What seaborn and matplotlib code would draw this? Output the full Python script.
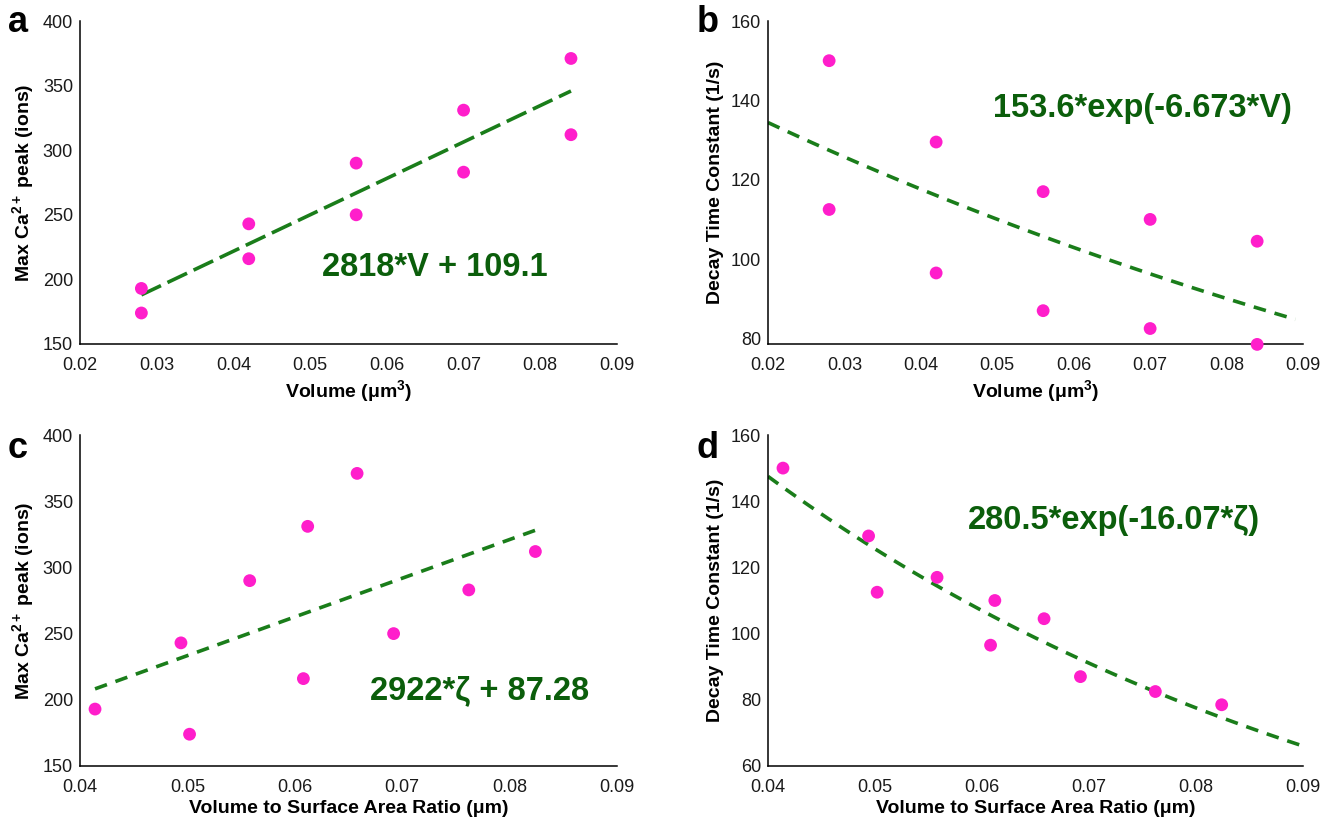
import numpy as np
import pandas as pd
import matplotlib
matplotlib.use("Agg")
import matplotlib.pyplot as plt
import seaborn as sns

# Spine geometry measurements: volume, volume-to-surface ratio, peak Ca2+ and decay constant
volume = [0.028, 0.028, 0.042, 0.042, 0.056, 0.056, 0.070, 0.070, 0.084, 0.084]
zeta = [0.0414, 0.0502, 0.0494, 0.0608, 0.0558, 0.0692, 0.0612, 0.0762, 0.0658, 0.0824]
peak_ca = [193, 174, 243, 216, 290, 250, 331, 283, 371, 312]
decay = [150, 112.5, 129.5, 96.5, 117, 87, 110, 82.5, 104.5, 78.5]

# Fit coefficients
lin_v = (2818, 109.1)
exp_v = (153.6, -6.673)
lin_z = (2922, 87.28)
exp_z = (280.5, -16.07)

eq_a = "2818*V + 109.1"
eq_b = "153.6*exp(-6.673*V)"
eq_c = "2922*\u03b6 + 87.28"
eq_d = "280.5*exp(-16.07*\u03b6)"

sns.set_theme(style="white")
plt.rcParams["font.family"] = ["Liberation Sans", "DejaVu Sans"]
plt.rcParams["mathtext.fontset"] = "custom"
plt.rcParams["mathtext.rm"] = "Liberation Sans"
plt.rcParams["mathtext.bf"] = "Liberation Sans:bold"
plt.rcParams["mathtext.it"] = "Liberation Sans:italic"
plt.rcParams["text.color"] = "black"
plt.rcParams["axes.labelcolor"] = "black"

df = pd.DataFrame({"volume": volume, "zeta": zeta, "peak": peak_ca, "decay": decay})

PINK = "#ff1ecb"
GREEN = "#1a7d1a"
TEXTGREEN = "#0b5e0b"

fig = plt.figure(figsize=(13.33, 8.19), dpi=100)
W, H = 1333, 819


def make_ax(x0, x1, y0, y1):
    return fig.add_axes([x0 / W, 1 - y1 / H, (x1 - x0) / W, (y1 - y0) / H])


ax_a = make_ax(80, 617, 21, 344)
ax_b = make_ax(768, 1303, 21, 344)
ax_c = make_ax(80, 617, 435, 766)
ax_d = make_ax(768, 1303, 435, 766)

vol_label = "Volume (\u03bcm$^{\\mathbf{3}}$)"
zeta_label = "Volume to Surface Area Ratio (\u03bcm)"
peak_label = "Max Ca$^{\\mathbf{2+}}$ peak (ions)"
decay_label = "Decay Time Constant (1/s)"


def style(ax, xlim, ylim, xticks, yticks, xlabel, ylabel):
    ax.set_xlim(*xlim)
    ax.set_ylim(*ylim)
    ax.set_xticks(xticks)
    ax.set_yticks(yticks)
    ax.set_xticklabels([f"{t:.2f}" for t in xticks])
    ax.set_yticklabels([f"{t:g}" for t in yticks])
    for s in ["top", "right"]:
        ax.spines[s].set_visible(False)
    for s in ["left", "bottom"]:
        ax.spines[s].set_color("black")
        ax.spines[s].set_linewidth(1.1)
    ax.tick_params(direction="in", length=3, width=0.8, color="#bbbbbb",
                   labelsize=13, labelcolor="#1a1a1a")
    ax.tick_params(axis="x", pad=9)
    ax.tick_params(axis="y", pad=5)
    ax.set_xlabel(xlabel, fontsize=14, fontweight="bold", labelpad=3)
    ax.set_ylabel(ylabel, fontsize=14, fontweight="bold", labelpad=5)
    ax.grid(False)


def scatter(ax, x, y):
    sns.scatterplot(data=df, x=x, y=y, ax=ax, color=PINK, s=85,
                    edgecolor="none", zorder=3, clip_on=False)


def fit_line(ax, xs, ys, dashes):
    sns.lineplot(x=xs, y=ys, ax=ax, color=GREEN, lw=2.6, zorder=2)
    ax.lines[-1].set_dashes(dashes)


EQ_SIZE = 23.5

# a: peak vs volume, linear fit
scatter(ax_a, "volume", "peak")
xa = np.linspace(min(volume), max(volume), 50)
fit_line(ax_a, xa, lin_v[0] * xa + lin_v[1], (6, 2))
style(ax_a, (0.02, 0.09), (150, 400), np.arange(0.02, 0.0901, 0.01),
      np.arange(150, 401, 50), vol_label, peak_label)
ax_a.text(0.0515, 209, eq_a, color=TEXTGREEN, fontsize=EQ_SIZE, fontweight="bold",
          va="center", ha="left")

# b: decay vs volume, exponential fit
scatter(ax_b, "volume", "decay")
xb = np.linspace(0.02, 0.089, 80)
fit_line(ax_b, xb, exp_v[0] * np.exp(exp_v[1] * xb), (3.5, 2.5))
style(ax_b, (0.02, 0.09), (78.6, 160), np.arange(0.02, 0.0901, 0.01),
      np.arange(80, 161, 20), vol_label, decay_label)
ax_b.text(0.0494, 138, eq_b, color=TEXTGREEN, fontsize=EQ_SIZE, fontweight="bold",
          va="center", ha="left")

# c: peak vs zeta, linear fit
scatter(ax_c, "zeta", "peak")
xc = np.linspace(min(zeta), max(zeta), 50)
fit_line(ax_c, xc, lin_z[0] * xc + lin_z[1], (3.5, 2.5))
style(ax_c, (0.04, 0.09), (150, 400), np.arange(0.04, 0.0901, 0.01),
      np.arange(150, 401, 50), zeta_label, peak_label)
ax_c.text(0.067, 207, eq_c, color=TEXTGREEN, fontsize=EQ_SIZE, fontweight="bold",
          va="center", ha="left")

# d: decay vs zeta, exponential fit
scatter(ax_d, "zeta", "decay")
xd = np.linspace(0.04, 0.09, 80)
fit_line(ax_d, xd, exp_z[0] * np.exp(exp_z[1] * xd), (3.5, 2.5))
style(ax_d, (0.04, 0.09), (60, 160), np.arange(0.04, 0.0901, 0.01),
      np.arange(60, 161, 20), zeta_label, decay_label)
ax_d.text(0.0587, 134.3, eq_d, color=TEXTGREEN, fontsize=EQ_SIZE, fontweight="bold",
          va="center", ha="left")

# panel letters
for letter, (px, py) in zip("abcd", [(18, 22), (708, 22), (18, 448), (708, 448)]):
    fig.text(px / W, 1 - py / H, letter, fontsize=26, fontweight="bold",
             ha="center", va="center", color="black")

fig.savefig("out.png", dpi=100)
